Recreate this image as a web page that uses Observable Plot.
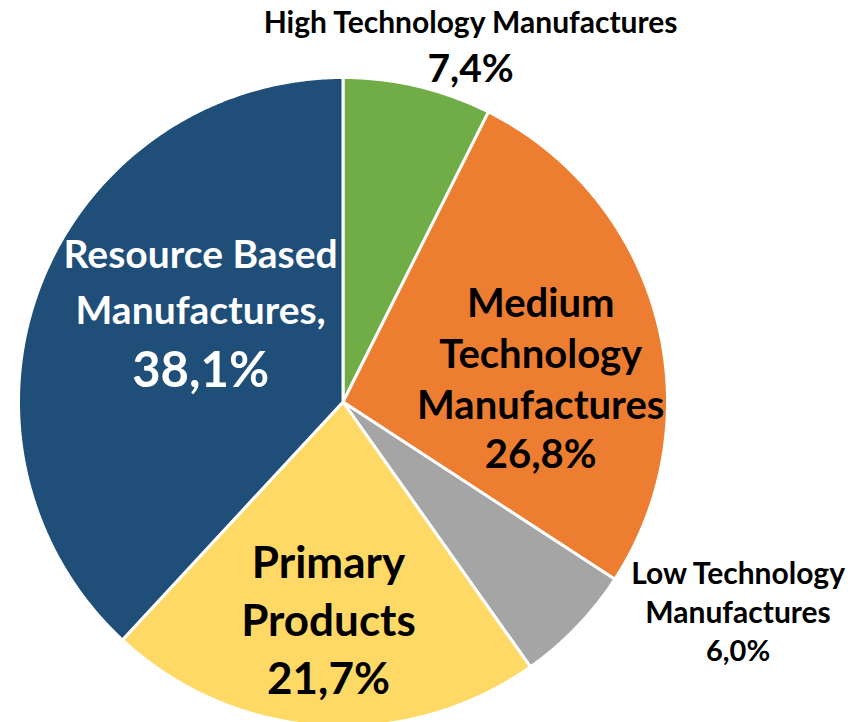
<!DOCTYPE html>
<html>
<head>
<meta charset="utf-8">
<script src="https://cdn.jsdelivr.net/npm/d3@7"></script>
<script src="https://cdn.jsdelivr.net/npm/@observablehq/plot@0.6"></script>
<style>
  html, body { margin: 0; padding: 0; background: #fff; }
  #chart svg { display: block; overflow: hidden; }
</style>
</head>
<body>
<div id="chart"></div>
<script>
// ---- data ----
const categories = [
  "High Technology Manufactures",
  "Medium Technology Manufactures",
  "Low Technology Manufactures",
  "Primary Products",
  "Resource Based Manufactures"
];
const shares = [7.4, 26.8, 6.0, 21.7, 38.1];
const labelLines = [
  "High Technology Manufactures",
  "Medium\nTechnology\nManufactures",
  "Low Technology\nManufactures",
  "Primary\nProducts",
  "Resource Based\nManufactures,"
];
const sliceColors = ["#70AD47", "#ED7D31", "#A5A5A5", "#FFD966", "#1F4E79"];

// ---- label styling (not data) ----
const labelStyle = [
  {k: 1.158, dx: 41,  dyName: -3,    dyPct: 46,    nameSize: 30, pctSize: 39, lh: 1.3,  color: "#000"},
  {k: 0.612, dx: 6,   dyName: 69,    dyPct: 118,   nameSize: 40, pctSize: 40, lh: 1.28, color: "#000"},
  {k: 1.395, dx: 69,  dyName: -93.5, dyPct: -55.5, nameSize: 30, pctSize: 29, lh: 1.29, color: "#000"},
  {k: 0.706, dx: 0.6, dyName: 5,     dyPct: 63,    nameSize: 44, pctSize: 44, lh: 1.32, color: "#000"},
  {k: 0.511, dx: 12,  dyName: -17,   dyPct: 46,    nameSize: 39, pctSize: 49, lh: 1.46, color: "#fff"}
];

// ---- build slices from data ----
const pie = d3.pie().sort(null).value(d => d.value).startAngle(0).endAngle(2 * Math.PI);
const rows = categories.map((c, i) => ({name: c, value: shares[i], label: labelLines[i], i}));
const arcs = pie(rows);

const pts = [];
arcs.forEach(a => {
  const name = a.data.name;
  pts.push({name, x: 0, y: 0});
  const n = Math.max(2, Math.ceil((a.endAngle - a.startAngle) / (Math.PI / 360)));
  for (let j = 0; j <= n; j++) {
    const t = a.startAngle + (a.endAngle - a.startAngle) * j / n;
    pts.push({name, x: Math.sin(t), y: Math.cos(t)});
  }
});

const fmt = v => d3.format(".1f")(v).replace(".", ",") + "%";

const textMarks = [];
arcs.forEach(a => {
  const s = labelStyle[a.data.i];
  const mid = (a.startAngle + a.endAngle) / 2;
  const px = Math.sin(mid) * s.k, py = Math.cos(mid) * s.k;
  const common = {
    x: () => px, y: () => py, dx: s.dx, fill: s.color,
    fontFamily: "Lato, 'Open Sans', sans-serif", fontWeight: 700,
    lineAnchor: "bottom", textAnchor: "middle"
  };
  textMarks.push(Plot.text([a.data], {...common, text: d => d.label, dy: s.dyName, fontSize: s.nameSize, lineHeight: s.lh}));
  textMarks.push(Plot.text([a.data], {...common, text: d => fmt(d.value), dy: s.dyPct, fontSize: s.pctSize}));
});

const chart = Plot.plot({
  width: 851,
  height: 722,
  marginLeft: 18,
  marginRight: 184,
  marginTop: 77,
  marginBottom: -4,
  x: {domain: [-1, 1], axis: null},
  y: {domain: [-1, 1], axis: null},
  color: {domain: categories, range: sliceColors},
  style: {background: "#fff"},
  marks: [
    Plot.line(pts, {
      x: "x", y: "y", z: "name", fill: "name",
      stroke: "#fff", strokeWidth: 3, strokeLinejoin: "round",
      curve: "linear-closed"
    }),
    ...textMarks
  ]
});
document.getElementById("chart").appendChild(chart);
</script>
</body>
</html>
